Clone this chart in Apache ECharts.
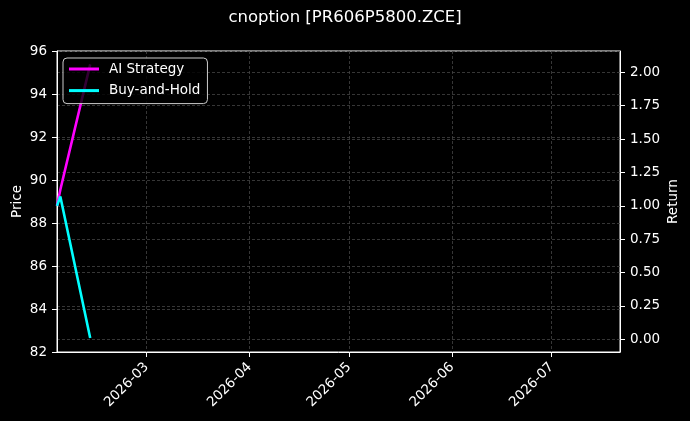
<!DOCTYPE html>
<html>
<head>
<meta charset="utf-8">
<script src="https://cdn.jsdelivr.net/npm/echarts@6/dist/echarts.min.js"></script>
<style>
html,body{margin:0;padding:0;background:#000;}
#chart{width:690px;height:421px;}
</style>
</head>
<body>
<div id="chart"></div>
<script>
// ---- data ----
const titleText = 'cnoption [PR606P5800.ZCE]';
const dates = ['2026-02-02', '2026-02-03', '2026-02-12'];
const aiStrategy = [1.00, 1.12, 2.06];
const buyAndHold = [1.00, 1.07, 0.01];
const xTickLabels = ['2026-03-01', '2026-04-01', '2026-05-01', '2026-06-01', '2026-07-01'];
const returnTicks = [0, 0.25, 0.5, 0.75, 1.0, 1.25, 1.5, 1.75, 2.0];
const priceMin = 82, priceMax = 96, priceStep = 2;
const returnMin = -0.095, returnMax = 2.16;
const xMin = '2026-02-02 00:00:00', xMax = '2026-07-21 14:00:00';

const toTs = s => echarts.time.parse(s).getTime();
const font = 'DejaVu Sans';
const fs = 13.5;
const gridLine = {show: true, lineStyle: {color: '#444444', width: 0.8, type: [3, 2]}};
const xTicks = xTickLabels.map(toTs);

const chart = echarts.init(document.getElementById('chart'), null, {renderer: 'canvas'});
chart.setOption({
  backgroundColor: '#000',
  animation: false,
  textStyle: {fontFamily: font},
  title: {
    text: titleText, left: 'center', top: 9, padding: 0,
    textStyle: {color: '#fff', fontSize: 16.5, fontWeight: 'normal', fontFamily: font}
  },
  legend: {
    orient: 'vertical', left: 63, top: 58,
    padding: [3, 7, 5, 6], itemGap: 5.6,
    itemWidth: 30, itemHeight: 3, icon: 'rect',
    backgroundColor: 'rgba(0,0,0,0.8)',
    borderColor: '#cccccc', borderWidth: 1, borderRadius: 4,
    textStyle: {color: '#fff', fontSize: fs, lineHeight: 16, padding: [0, 0, 0, 5], fontFamily: font},
    data: ['AI Strategy', 'Buy-and-Hold']
  },
  grid: {left: 57, right: 70, top: 51, bottom: 69, show: true, borderColor: '#fff', borderWidth: 1,
    containLabel: false, outerBoundsMode: 'none'},
  xAxis: {
    type: 'value', min: toTs(xMin), max: toTs(xMax),
    axisLine: {show: true, onZero: false, lineStyle: {color: '#fff'}},
    axisTick: {show: true, length: 5, lineStyle: {color: '#fff'}, customValues: xTicks},
    axisLabel: {
      color: '#fff', fontSize: fs, rotate: 45, margin: 13, fontFamily: font,
      customValues: xTicks,
      formatter: v => echarts.time.format(v, '{yyyy}-{MM}', false)
    },
    splitLine: gridLine
  },
  yAxis: [
    {
      type: 'value', position: 'left', min: priceMin, max: priceMax, interval: priceStep,
      name: 'Price', nameLocation: 'middle', nameRotate: 90, nameGap: 33, nameMoveOverlap: false,
      nameTextStyle: {color: '#fff', fontSize: fs, fontFamily: font},
      axisLine: {show: true, onZero: false, lineStyle: {color: '#fff'}},
      axisTick: {show: true, length: 5, lineStyle: {color: '#fff'}},
      axisLabel: {color: '#fff', fontSize: fs, margin: 10, fontFamily: font},
      splitLine: gridLine
    },
    {
      type: 'value', position: 'right', min: returnMin, max: returnMax,
      name: 'Return', nameLocation: 'middle', nameRotate: 90, nameGap: 46, nameMoveOverlap: false,
      nameTextStyle: {color: '#fff', fontSize: fs, fontFamily: font},
      axisLine: {show: true, onZero: false, lineStyle: {color: '#fff'}},
      axisTick: {show: true, length: 5, lineStyle: {color: '#fff'}, customValues: returnTicks},
      axisLabel: {color: '#fff', fontSize: fs, margin: 10, fontFamily: font,
        customValues: returnTicks, formatter: v => v.toFixed(2)},
      splitLine: gridLine
    }
  ],
  series: [
    {
      name: 'AI Strategy', type: 'line', yAxisIndex: 1, showSymbol: false, symbol: 'none',
      color: '#ff00ff', lineStyle: {color: '#ff00ff', width: 2.6},
      clip: true,
      data: dates.map((d, i) => [toTs(d), aiStrategy[i]])
    },
    {
      name: 'Buy-and-Hold', type: 'line', yAxisIndex: 1, showSymbol: false, symbol: 'none',
      color: '#00ffff', lineStyle: {color: '#00ffff', width: 2.6},
      clip: true,
      data: dates.map((d, i) => [toTs(d), buyAndHold[i]])
    }
  ]
});
</script>
</body>
</html>
